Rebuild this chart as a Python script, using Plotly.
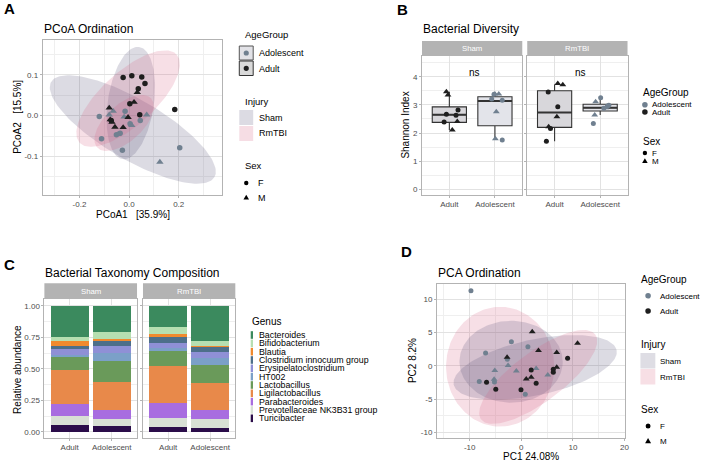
import numpy as np
import plotly.graph_objects as go

W, H = 707, 461
FONT = "Liberation Sans, Arial, Helvetica, sans-serif"

# ================= DATA =================
# ---- Panel A: PCoA ordination (PCoA1, PCoA2) ----
pcoa_adult_f_x = [-0.024, 0.011, 0.051, 0.064, 0.037, 0.003, 0.043, 0.184, -0.072]
pcoa_adult_f_y = [0.094, 0.098, 0.095, 0.079, 0.066, 0.029, 0.002, 0.015, -0.012]
pcoa_adult_m_x = [0.033, 0.020, -0.080, -0.076, -0.069, -0.057, -0.024, -0.004]
pcoa_adult_m_y = [0.057, 0.033, 0.019, -0.010, -0.016, -0.028, -0.029, -0.004]
pcoa_ado_f_x = [-0.120, -0.016, 0.045, -0.111, -0.027, 0.204, -0.036, 0.004, -0.051]
pcoa_ado_f_y = [-0.002, 0.011, -0.012, -0.057, -0.085, -0.079, -0.043, -0.020, -0.047]
pcoa_ado_m_x = [-0.064, -0.080, -0.020, 0.071, 0.011, 0.124, -0.045]
pcoa_ado_m_y = [0.011, 0.002, -0.003, 0.002, -0.024, -0.114, -0.046]
# confidence ellipses: centre + two conjugate semi-axis vectors (data units)
pcoa_ell_injury = ["Sham", "Sham", "RmTBI", "RmTBI"]
pcoa_ell_cx = [0.015, 0.007, -0.004, -0.020]
pcoa_ell_cy = [-0.034, 0.031, 0.042, -0.018]
pcoa_ell_ax = [0.329, 0.033, 0.196, 0.109]
pcoa_ell_ay = [-0.117, 0.138, 0.108, 0.060]
pcoa_ell_bx = [-0.060, 0.092, 0.071, 0.049]
pcoa_ell_by = [-0.064, -0.008, -0.049, -0.034]
pcoa_x_ticks = [-0.2, 0.0, 0.2]
pcoa_x_ticktext = ["-0.2", "0.0", "0.2"]
pcoa_y_ticks = [-0.1, 0.0, 0.1]
pcoa_y_ticktext = ["-0.1", "0.0", "0.1"]

# ---- Panel B: Shannon diversity ----
age_categories = ["Adult", "Adolescent"]
div_box_q1 = {"Sham": [2.38, 2.26], "RmTBI": [2.20, 2.78]}
div_box_med = {"Sham": [2.65, 3.14], "RmTBI": [2.73, 2.90]}
div_box_q3 = {"Sham": [2.93, 3.29], "RmTBI": [3.50, 3.02]}
div_box_lo = {"Sham": [2.11, 1.78], "RmTBI": [1.71, 2.64]}
div_box_hi = {"Sham": [3.47, 3.39], "RmTBI": [3.72, 3.25]}
sham_adult_x = [0.935, 0.97, 0.935, 0.885, 1.146, 1.19, 1.174, 1.065]
sham_adult_y = [3.47, 3.35, 2.67, 2.39, 2.63, 2.82, 2.41, 2.11]
sham_adult_sex = ["M", "M", "F", "F", "F", "F", "M", "M"]
sham_ado_x = [1.93, 1.98, 2.00, 2.085, 2.16, 2.03, 2.01, 2.16]
sham_ado_y = [3.21, 3.38, 3.39, 3.39, 3.16, 2.76, 1.80, 1.75]
sham_ado_sex = ["F", "F", "M", "M", "F", "M", "M", "F"]
rmtbi_adult_x = [0.86, 1.07, 1.05, 0.87, 0.91, 0.82, 1.07, 1.18]
rmtbi_adult_y = [3.46, 2.93, 2.58, 2.22, 2.16, 1.71, 3.76, 3.71]
rmtbi_adult_sex = ["F", "F", "M", "M", "F", "F", "M", "M"]
rmtbi_ado_x = [2.01, 1.90, 1.88, 1.85, 2.08, 2.16, 2.19, 2.12]
rmtbi_ado_y = [3.25, 3.11, 2.64, 2.34, 2.88, 2.96, 2.99, 2.90]
rmtbi_ado_sex = ["F", "M", "M", "F", "F", "F", "F", "M"]
div_y_ticks = [0, 1, 2, 3, 4]
div_y_ticktext = ["0", "1", "2", "3", "4"]

# ---- Panel C: relative abundance by genus (order: Adult, Adolescent) ----
genera = ["Bacteroides", "Bifidobacterium", "Blautia", "Clostridium innocuum group",
          "Erysipelatoclostridium", "HT002", "Lactobacillus", "Ligilactobacillus",
          "Parabacteroides", "Prevotellaceae NK3B31 group", "Turicibacter"]
genus_colors = ["#3b8a5e", "#b6dfb1", "#f08a2e", "#4d6f8a", "#8f90d6", "#7ba0c8",
                "#6a9a5a", "#e8894a", "#a86de0", "#d8e0d5", "#2b0d4a"]
abund_sham = {
    "Bacteroides": [0.245, 0.205], "Bifidobacterium": [0.031, 0.061], "Blautia": [0.040, 0.013],
    "Clostridium innocuum group": [0.028, 0.039], "Erysipelatoclostridium": [0.046, 0.058],
    "HT002": [0.020, 0.061], "Lactobacillus": [0.100, 0.168], "Ligilactobacillus": [0.266, 0.219],
    "Parabacteroides": [0.094, 0.071], "Prevotellaceae NK3B31 group": [0.072, 0.055],
    "Turicibacter": [0.058, 0.050]}
abund_rmtbi = {
    "Bacteroides": [0.171, 0.276], "Bifidobacterium": [0.050, 0.040], "Blautia": [0.024, 0.008],
    "Clostridium innocuum group": [0.047, 0.042], "Erysipelatoclostridium": [0.045, 0.050],
    "HT002": [0.018, 0.052], "Lactobacillus": [0.121, 0.145], "Ligilactobacillus": [0.295, 0.211],
    "Parabacteroides": [0.121, 0.073], "Prevotellaceae NK3B31 group": [0.068, 0.069],
    "Turicibacter": [0.040, 0.034]}
abund_y_ticks = [0, 0.25, 0.5, 0.75, 1.0]
abund_y_ticktext = ["0.00", "0.25", "0.50", "0.75", "1.00"]

# ---- Panel D: PCA ordination ----
pca_ado_f_x = [-9.75, -1.92, 1.28, -6.92, -8.14, 0.77, -5.2, -2.7]
pca_ado_f_y = [11.27, 3.64, 2.89, 1.95, -2.35, -4.24, -2.4, 1.0]
pca_ado_m_x = [-2.56, -5.13, -0.96, 2.88, 5.13, -5.26]
pca_ado_m_y = [0.05, -0.70, -0.75, -0.40, -1.35, -2.0]
pca_adult_f_x = [8.97, 1.92, 6.2, 6.2, -6.73, -4.94, -0.06, 2.88]
pca_adult_f_y = [1.15, -0.60, -0.5, -0.95, -2.44, -3.49, -3.59, -2.6]
pca_adult_m_x = [2.12, 10.9, 3.33, 6.86, -2.75, 6.86, 0.96, 1.92]
pca_adult_m_y = [5.14, 3.4, 2.3, 2.0, 1.3, -0.2, -1.95, -1.7]
pca_ell_injury = ["RmTBI", "Sham", "Sham", "RmTBI"]
pca_ell_cx = [-4.1, -1.98, 2.69, 3.27]
pca_ell_cy = [-0.12, 0.63, -0.22, -1.65]
pca_ell_ax = [10.48, 10.0, 15.77, 11.06]
pca_ell_ay = [0.0, 0.0, 2.60, 6.36]
pca_ell_bx = [0.0, 0.0, 1.12, 2.86]
pca_ell_by = [8.98, 6.14, -4.10, -3.01]
pca_x_ticks = [-10, 0, 10, 20]
pca_x_ticktext = ["-10", "0", "10", "20"]
pca_y_ticks = [-10, -5, 0, 5, 10]
pca_y_ticktext = ["-10", "-5", "0", "5", "10"]

# ================= STYLE =================
GRID_MAJ = "#e2e2e2"
GRID_MIN = "#efefef"
BORDER = "#b3b3b3"
TICKC = "#4d4d4d"
COL_AGE = {"Adolescent": "#708090", "Adult": "#1e1e1e"}
SYM = {"F": "circle", "M": "triangle-up"}
MSIZE = {"F": 5.5, "M": 6.5}
FILL_INJ = {"Sham": "rgba(80,75,115,0.2)", "RmTBI": "rgba(215,95,130,0.2)"}
BOX_W = 0.75


def fx(x):
    return x / W


def fy(y):
    return 1 - y / H


fig = go.Figure()


def ellipse(cx, cy, ax, ay, bx, by):
    t = np.linspace(0, 2 * np.pi, 150)
    return cx + ax * np.cos(t) + bx * np.sin(t), cy + ay * np.cos(t) + by * np.sin(t)


def add_ellipses(cxs, cys, axs, ays, bxs, bys, inj, xa, ya):
    for i in range(len(cxs)):
        ex, ey = ellipse(cxs[i], cys[i], axs[i], ays[i], bxs[i], bys[i])
        fig.add_trace(go.Scatter(x=ex, y=ey, mode="lines", fill="toself",
                                 fillcolor=FILL_INJ[inj[i]], line=dict(width=0),
                                 hoverinfo="skip", xaxis=xa, yaxis=ya))


def add_points(x, y, age, sex, xa, ya, size=None):
    fig.add_trace(go.Scatter(x=x, y=y, mode="markers",
                             marker=dict(symbol=SYM[sex], color=COL_AGE[age],
                                         size=size or MSIZE[sex], line=dict(width=0)),
                             xaxis=xa, yaxis=ya))


# ---- Panel A ----
add_ellipses(pcoa_ell_cx, pcoa_ell_cy, pcoa_ell_ax, pcoa_ell_ay, pcoa_ell_bx, pcoa_ell_by,
             pcoa_ell_injury, "x", "y")
add_points(pcoa_ado_f_x, pcoa_ado_f_y, "Adolescent", "F", "x", "y")
add_points(pcoa_ado_m_x, pcoa_ado_m_y, "Adolescent", "M", "x", "y")
add_points(pcoa_adult_f_x, pcoa_adult_f_y, "Adult", "F", "x", "y")
add_points(pcoa_adult_m_x, pcoa_adult_m_y, "Adult", "M", "x", "y")

# ---- Panel B ----
BOX_FILL = {"Adult": "#d8d7db", "Adolescent": "#e3e4ea"}
for inj, xa, ya in [("Sham", "x2", "y2"), ("RmTBI", "x3", "y3")]:
    for k, age in enumerate(age_categories):
        fig.add_trace(go.Box(x=[k + 1], q1=[div_box_q1[inj][k]], median=[div_box_med[inj][k]],
                             q3=[div_box_q3[inj][k]], lowerfence=[div_box_lo[inj][k]],
                             upperfence=[div_box_hi[inj][k]], width=BOX_W, whiskerwidth=0,
                             fillcolor=BOX_FILL[age], line=dict(color="#333333", width=1.1),
                             boxpoints=False, xaxis=xa, yaxis=ya))
        # thicker median bar, as in ggplot
        fig.add_trace(go.Scatter(x=[k + 1 - BOX_W / 2, k + 1 + BOX_W / 2],
                                 y=[div_box_med[inj][k]] * 2, mode="lines",
                                 line=dict(color="#333333", width=2), hoverinfo="skip",
                                 xaxis=xa, yaxis=ya))
for xs, ys, sexes, age, xa, ya in [
        (sham_adult_x, sham_adult_y, sham_adult_sex, "Adult", "x2", "y2"),
        (sham_ado_x, sham_ado_y, sham_ado_sex, "Adolescent", "x2", "y2"),
        (rmtbi_adult_x, rmtbi_adult_y, rmtbi_adult_sex, "Adult", "x3", "y3"),
        (rmtbi_ado_x, rmtbi_ado_y, rmtbi_ado_sex, "Adolescent", "x3", "y3")]:
    for s in ["F", "M"]:
        sx = [xs[i] for i in range(len(xs)) if sexes[i] == s]
        sy = [ys[i] for i in range(len(ys)) if sexes[i] == s]
        add_points(sx, sy, age, s, xa, ya, size=5 if s == "F" else 6)

# ---- Panel C ----
for g, col in reversed(list(zip(genera, genus_colors))):
    fig.add_trace(go.Bar(x=[1, 2], y=abund_sham[g], width=0.9, marker=dict(color=col, line=dict(width=0)),
                         xaxis="x4", yaxis="y4"))
    fig.add_trace(go.Bar(x=[1, 2], y=abund_rmtbi[g], width=0.9, marker=dict(color=col, line=dict(width=0)),
                         xaxis="x5", yaxis="y5"))

# ---- Panel D ----
add_ellipses(pca_ell_cx, pca_ell_cy, pca_ell_ax, pca_ell_ay, pca_ell_bx, pca_ell_by,
             pca_ell_injury, "x6", "y6")
add_points(pca_ado_f_x, pca_ado_f_y, "Adolescent", "F", "x6", "y6", size=5)
add_points(pca_ado_m_x, pca_ado_m_y, "Adolescent", "M", "x6", "y6", size=6)
add_points(pca_adult_f_x, pca_adult_f_y, "Adult", "F", "x6", "y6", size=5)
add_points(pca_adult_m_x, pca_adult_m_y, "Adult", "M", "x6", "y6", size=6)


# ================= AXES =================
def axis(domain, rng, anchor, tv, tt, minor=None, labels=True, standoff=0):
    d = dict(domain=domain, range=rng, anchor=anchor, showgrid=True, gridcolor=GRID_MAJ,
             gridwidth=0.9, zeroline=False, showline=True, mirror=True, linecolor=BORDER,
             linewidth=0.8, ticks="outside", ticklen=2, tickcolor=BORDER, tickwidth=0.8,
             tickfont=dict(family=FONT, size=8, color=TICKC), tickmode="array",
             tickvals=tv, ticktext=tt, showticklabels=labels, fixedrange=True,
             ticklabelstandoff=standoff)
    if minor:
        d["minor"] = dict(tickmode="array", tickvals=minor, showgrid=True,
                          gridcolor=GRID_MIN, gridwidth=0.5, ticks="")
    return d


cat_ticks = [1, 2]
layout_axes = dict(
    xaxis=axis([fx(43), fx(224)], [-0.348, 0.376], "y", pcoa_x_ticks, pcoa_x_ticktext, [-0.3, -0.1, 0.1, 0.3], standoff=-1),
    yaxis=axis([fy(195), fy(40)], [-0.195, 0.186], "x", pcoa_y_ticks, pcoa_y_ticktext, [-0.15, -0.05, 0.05, 0.15]),
    xaxis2=axis([fx(425), fx(526)], [0.4, 2.6], "y2", cat_ticks, age_categories, standoff=-1),
    yaxis2=axis([fy(195), fy(56)], [-0.2, 4.735], "x2", div_y_ticks, div_y_ticktext, [0.5, 1.5, 2.5, 3.5, 4.5]),
    xaxis3=axis([fx(531), fx(632)], [0.4, 2.6], "y3", cat_ticks, age_categories, standoff=-1),
    yaxis3=axis([fy(195), fy(56)], [-0.2, 4.735], "x3", div_y_ticks, div_y_ticktext, [0.5, 1.5, 2.5, 3.5, 4.5], labels=False),
    xaxis4=axis([fx(44.7), fx(138)], [0.4, 2.6], "y4", cat_ticks, age_categories, standoff=-1),
    yaxis4=axis([fy(438.3), fy(299)], [-0.05, 1.053], "x4", abund_y_ticks, abund_y_ticktext, [0.125, 0.375, 0.625, 0.875]),
    xaxis5=axis([fx(144), fx(237)], [0.4, 2.6], "y5", cat_ticks, age_categories, standoff=-1),
    yaxis5=axis([fy(438.3), fy(299)], [-0.05, 1.053], "x5", abund_y_ticks, abund_y_ticktext, [0.125, 0.375, 0.625, 0.875], labels=False),
    xaxis6=axis([fx(440), fx(629.3)], [-16.35, 20.06], "y6", pca_x_ticks, pca_x_ticktext, [-15, -5, 5, 15], standoff=-1),
    yaxis6=axis([fy(438.3), fy(284)], [-10.85, 12.28], "x6", pca_y_ticks, pca_y_ticktext, [-7.5, -2.5, 2.5, 7.5]),
)

# ================= ANNOTATIONS / SHAPES =================
ann = []
shp = []


def txt(x, y, s, size=8, color="#000000", anchor="left", angle=0):
    ann.append(dict(x=fx(x), y=fy(y), xref="paper", yref="paper", text=s, showarrow=False,
                    xanchor=anchor, yanchor="middle", textangle=angle, borderpad=0,
                    font=dict(family=FONT, size=size, color=color)))


def rect(x0, y0, x1, y1, fill, line=None, lw=0):
    shp.append(dict(type="rect", xref="paper", yref="paper", x0=fx(x0), x1=fx(x1),
                    y0=fy(y1), y1=fy(y0), fillcolor=fill,
                    line=dict(color=line or fill, width=lw), layer="above"))


def dot(x, y, r, color):
    shp.append(dict(type="circle", xref="paper", yref="paper", x0=fx(x - r), x1=fx(x + r),
                    y0=fy(y + r), y1=fy(y - r), fillcolor=color, line=dict(width=0), layer="above"))


def tri(x, y, r, color):
    p = f"M {fx(x)},{fy(y - r)} L {fx(x + r * 1.0)},{fy(y + r * 0.75)} L {fx(x - r * 1.0)},{fy(y + r * 0.75)} Z"
    shp.append(dict(type="path", xref="paper", yref="paper", path=p, fillcolor=color,
                    line=dict(width=0), layer="above"))


NB = "\u00a0"

# panel tags
for lab, x, y in [("A", 3, 9), ("B", 399, 10), ("C", 3, 264), ("D", 402.5, 251)]:
    txt(x, y, f"<b>{lab}</b>", size=15)

# titles
txt(43, 29, "PCoA Ordination", 12)
txt(425, 29, "Bacterial Diversity", 12)
txt(44.5, 272.5, "Bacterial Taxonomy Composition", 12)
txt(440, 272.5, "PCA Ordination", 12)

# axis titles
txt(133.5, 214, f"PCoA1{NB*3}[35.9%]", 10, anchor="center")
txt(18, 117, f"PCoA2{NB*3}[15.5%]", 10, anchor="center", angle=-90)
txt(408, 125.5, "Shannon Index", 10, anchor="center", angle=-90)
txt(17, 369, "Relative abundance", 10, anchor="center", angle=-90)
txt(534.7, 456.5, "PC1 24.08%", 10, anchor="center")
txt(415, 361, "PC2 8.2%", 10, anchor="center", angle=-90)

# strips
for x0, x1, y0, y1, lab in [(425, 526, 41, 56, "Sham"), (531, 632, 41, 56, "RmTBI"),
                             (44.7, 138, 283.3, 299, "Sham"), (144, 237, 283.3, 299, "RmTBI")]:
    rect(x0, y0, x1, y1, "#b3b3b3")
    txt((x0 + x1) / 2, (y0 + y1) / 2, lab, 7.8, "#ffffff", anchor="center")

# ns labels
txt(478, 72, "ns", 10, anchor="center")
txt(584.3, 72, "ns", 10, anchor="center")

# ---- legend A ----
txt(246, 34, "AgeGroup", 9.5)
rect(241, 46, 255, 60, "#e2e2e7", "#555555", 1)
dot(248, 53, 2.6, COL_AGE["Adolescent"])
txt(260, 53, "Adolescent", 9)
rect(241, 61, 255, 75.5, "#d9d9d9", "#333333", 1)
dot(248, 68.3, 2.6, COL_AGE["Adult"])
txt(260, 68.5, "Adult", 9)
txt(246, 101, "Injury", 9.5)
rect(241, 110, 255, 125, "#dcdbe3")
txt(260, 117.5, "Sham", 9)
rect(241, 126, 255, 141, "#f6dde4")
txt(260, 133.5, "RmTBI", 9)
txt(246, 165, "Sex", 9.5)
dot(248, 183, 2.2, "#000000")
txt(259, 183, "F", 9)
tri(248, 197.5, 2.8, "#000000")
txt(259, 198, "M", 9)

# ---- legend B ----
txt(647, 92, "AgeGroup", 10)
dot(649.5, 104.8, 2.8, COL_AGE["Adolescent"])
txt(656, 104.5, "Adolescent", 8)
dot(649.5, 112, 2.8, COL_AGE["Adult"])
txt(656, 112.5, "Adult", 8)
txt(647, 141, "Sex", 10)
dot(649.5, 153, 2.2, "#000000")
txt(655.5, 153, "F", 8)
tri(649.5, 161, 2.8, "#000000")
txt(655.5, 161.5, "M", 8)

# ---- legend C ----
txt(252.5, 321, "Genus", 10)
for i, (g, col) in enumerate(zip(genera, genus_colors)):
    yy = 335 + i * 8.33
    rect(252.5, yy - 3.8, 254.8, yy + 3.8, col)
    txt(259.5, yy, g, 8.8)

# ---- legend D ----
txt(645, 279, "AgeGroup", 10)
dot(652.7, 295.7, 2.8, COL_AGE["Adolescent"])
txt(664, 296, "Adolescent", 8)
dot(652.7, 311, 2.8, COL_AGE["Adult"])
txt(664, 311.5, "Adult", 8)
txt(645, 344, "Injury", 10)
rect(645, 353, 660, 368.5, "#dedde4")
txt(664, 361, "Sham", 8)
rect(645, 369, 660, 384.5, "#f7dfe5")
txt(664, 377, "RmTBI", 8)
txt(645, 409, "Sex", 10)
dot(652.7, 426, 2.5, "#000000")
txt(664, 426, "F", 8)
tri(652.7, 441, 3.0, "#000000")
txt(664, 441.5, "M", 8)

fig.update_layout(
    width=W, height=H, margin=dict(l=0, r=0, t=0, b=0),
    paper_bgcolor="#ffffff", plot_bgcolor="#ffffff",
    showlegend=False, barmode="stack", boxmode="overlay",
    font=dict(family=FONT),
    annotations=ann, shapes=shp,
    **layout_axes,
)

fig.write_html("out.html", config={"displayModeBar": False},
               post_script="document.body.style.margin='0';document.body.style.overflow='hidden';")
